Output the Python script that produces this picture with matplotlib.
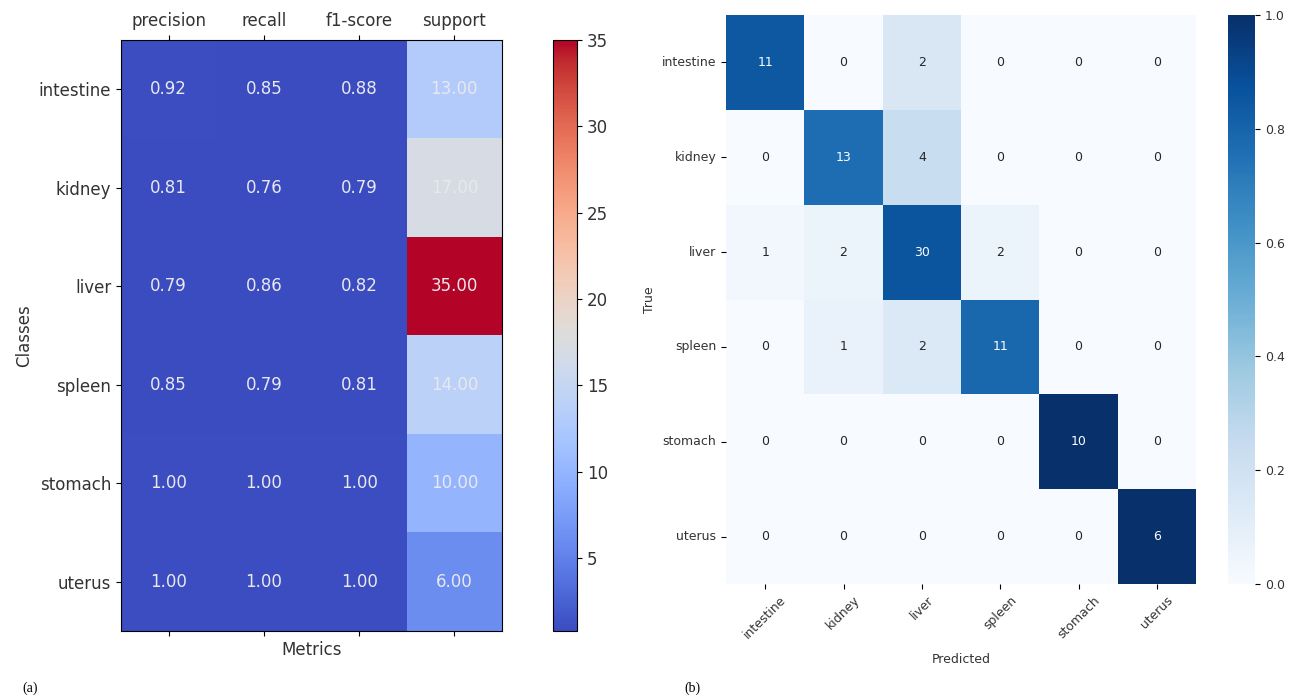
import numpy as np
import matplotlib
matplotlib.use("Agg")
import matplotlib.pyplot as plt
import seaborn as sns

classes = ["intestine", "kidney", "liver", "spleen", "stomach", "uterus"]
metrics = ["precision", "recall", "f1-score", "support"]
precision = [0.92, 0.81, 0.79, 0.85, 1.00, 1.00]
recall = [0.85, 0.76, 0.86, 0.79, 1.00, 1.00]
f1 = [0.88, 0.79, 0.82, 0.81, 1.00, 1.00]
support = [13, 17, 35, 14, 10, 6]

cm = np.array([
    [11, 0, 2, 0, 0, 0],
    [0, 13, 4, 0, 0, 0],
    [1, 2, 30, 2, 0, 0],
    [0, 1, 2, 11, 0, 0],
    [0, 0, 0, 0, 10, 0],
    [0, 0, 0, 0, 0, 6],
])

plt.rcParams['font.family'] = ['DejaVu Sans']
fig = plt.figure(figsize=(12.9, 6.98), dpi=100)
W, H = 1290, 698

def ax_rect(x0, y0, x1, y1):
    return [x0 / W, 1 - y1 / H, (x1 - x0) / W, (y1 - y0) / H]

txt = '#333333'
# Left panel
report = np.array([precision, recall, f1, support], dtype=float).T
ax1 = fig.add_axes(ax_rect(121, 40, 502, 631))
im = ax1.imshow(report, cmap='coolwarm', aspect='auto')
for i in range(report.shape[0]):
    for j in range(report.shape[1]):
        ax1.text(j, i, f"{report[i, j]:.2f}", ha='center', va='center', color='#e8e8ee', fontsize=12)
ax1.set_xticks(range(len(metrics)))
ax1.set_xticklabels(metrics, fontsize=12, color=txt)
ax1.set_yticks(range(len(classes)))
ax1.set_yticklabels(classes, fontsize=12, color=txt)
ax1.tick_params(axis='x', top=True, bottom=True, labeltop=True, labelbottom=False)
ax1.set_xlabel("Metrics", fontsize=12, color=txt)
ax1.set_ylabel("Classes", fontsize=12, color=txt)
cax1 = fig.add_axes(ax_rect(553, 40, 577, 631))
cb1 = fig.colorbar(im, cax=cax1)
cb1.set_ticks([5, 10, 15, 20, 25, 30, 35])
cb1.ax.tick_params(labelsize=12, labelcolor=txt)

# Right panel
cm_norm = cm / cm.sum(axis=1, keepdims=True)
ax2 = fig.add_axes(ax_rect(726, 15, 1196, 584))
cax2 = fig.add_axes(ax_rect(1228, 15, 1255, 584))
sns.heatmap(cm_norm, annot=cm, fmt='d', cmap='Blues', ax=ax2, cbar_ax=cax2,
            xticklabels=classes, yticklabels=classes, vmin=0, vmax=1,
            annot_kws={'fontsize': 9})
ax2.set_xticklabels(classes, rotation=45, fontsize=9, color=txt)
ax2.set_yticklabels(classes, rotation=0, fontsize=9, color=txt)
ax2.set_xlabel("Predicted", fontsize=9, color=txt, labelpad=8)
ax2.set_ylabel("True", fontsize=9, color=txt)
cax2.tick_params(labelsize=9, labelcolor=txt)
cb2 = ax2.collections[0].colorbar
cb2.set_ticks([0.0, 0.2, 0.4, 0.6, 0.8, 1.0])

fig.text(22 / W, 1 - 688 / H, "(a)", family='Liberation Serif', fontsize=10, ha='left', va='center')
fig.text(684 / W, 1 - 688 / H, "(b)", family='Liberation Serif', fontsize=10, ha='left', va='center')

fig.savefig("out.png", dpi=100)
